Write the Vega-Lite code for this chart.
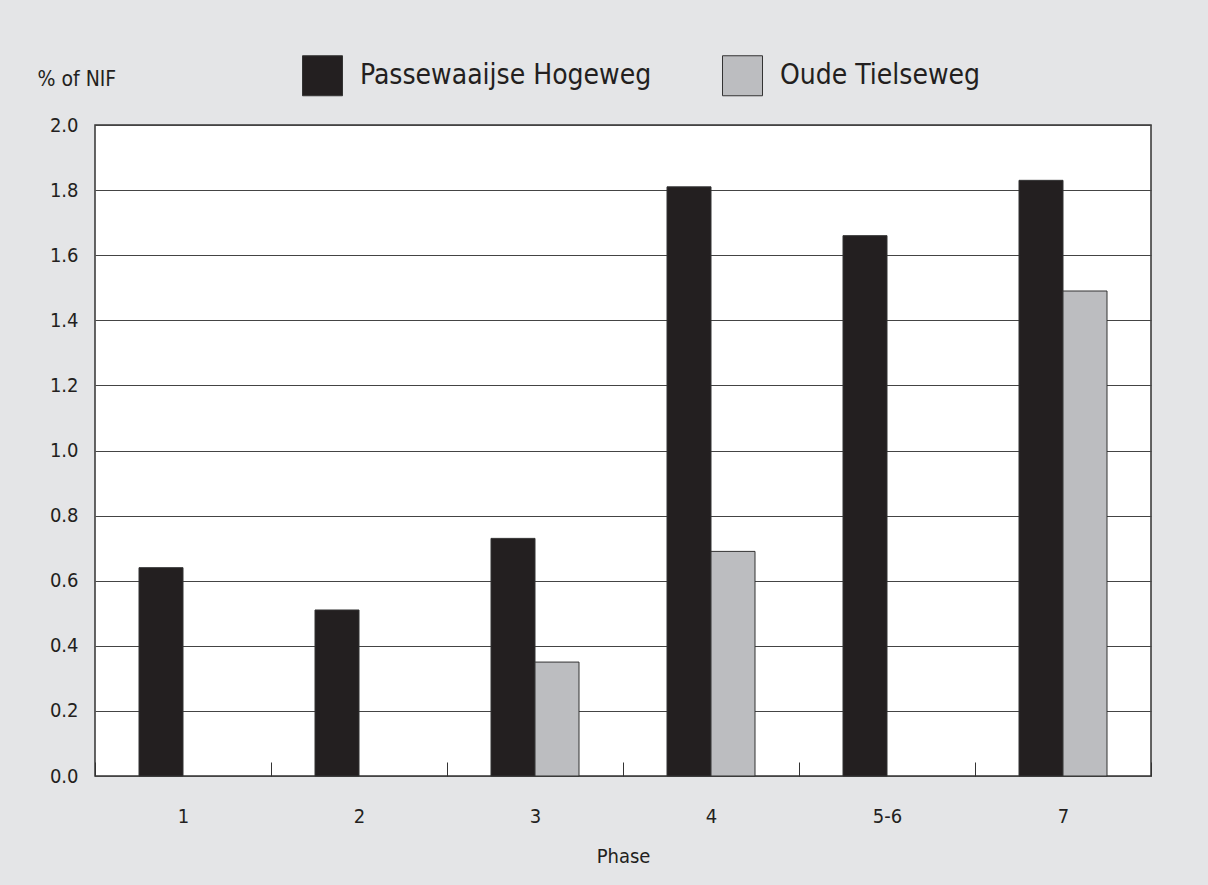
{
  "$schema": "https://vega.github.io/schema/vega-lite/v6.json",
  "autosize": {"type": "none"},
  "width": 1056,
  "height": 651,
  "padding": {"left": 95, "top": 125, "right": 57, "bottom": 109},
  "background": "#e4e5e7",
  "config": {
    "view": {"fill": "#ffffff", "stroke": "#333333", "strokeWidth": 1.5},
    "font": "DejaVu Sans Condensed",
    "axis": {"labelColor": "#231f20", "titleColor": "#231f20", "labelFont": "DejaVu Sans Condensed", "titleFont": "DejaVu Sans Condensed"},
    "legend": {"labelFont": "DejaVu Sans Condensed"}
  },
  "data": {
    "values": [
      {"phase": "1", "site": "Passewaaijse Hogeweg", "value": 0.64},
      {"phase": "2", "site": "Passewaaijse Hogeweg", "value": 0.51},
      {"phase": "3", "site": "Passewaaijse Hogeweg", "value": 0.73},
      {"phase": "3", "site": "Oude Tielseweg", "value": 0.35},
      {"phase": "4", "site": "Passewaaijse Hogeweg", "value": 1.81},
      {"phase": "4", "site": "Oude Tielseweg", "value": 0.69},
      {"phase": "5-6", "site": "Passewaaijse Hogeweg", "value": 1.66},
      {"phase": "7", "site": "Passewaaijse Hogeweg", "value": 1.83},
      {"phase": "7", "site": "Oude Tielseweg", "value": 1.49}
    ]
  },
  "mark": {"type": "bar", "stroke": "#333333", "strokeWidth": 1},
  "encoding": {
    "x": {
      "field": "phase",
      "type": "nominal",
      "sort": ["1", "2", "3", "4", "5-6", "7"],
      "scale": {"paddingInner": 0, "paddingOuter": 0},
      "axis": {
        "title": "Phase",
        "titleFontSize": 20,
        "titleFontWeight": "normal",
        "titlePadding": 20,
        "labelAngle": 0,
        "labelFontSize": 20,
        "labelPadding": 44,
        "domain": false,
        "ticks": true,
        "tickBand": "extent",
        "tickSize": -14,
        "tickColor": "#333333",
        "tickWidth": 1,
        "grid": false
      }
    },
    "xOffset": {
      "field": "site",
      "type": "nominal",
      "sort": ["Passewaaijse Hogeweg", "Oude Tielseweg"],
      "scale": {"paddingInner": 0, "paddingOuter": 1}
    },
    "y": {
      "field": "value",
      "type": "quantitative",
      "scale": {"domain": [0, 2], "nice": false},
      "axis": {
        "values": [0, 0.2, 0.4, 0.6, 0.8, 1.0, 1.2, 1.4, 1.6, 1.8, 2.0],
        "format": ".1f",
        "labelFontSize": 20,
        "labelPadding": 17,
        "ticks": false,
        "domain": false,
        "grid": true,
        "gridColor": "#444444",
        "gridWidth": 1,
        "title": "% of NIF",
        "titleFontSize": 21,
        "titleFontWeight": "normal",
        "titleAngle": 0,
        "titleAlign": "left",
        "titleBaseline": "alphabetic",
        "titleX": -58,
        "titleY": -40
      }
    },
    "color": {
      "field": "site",
      "type": "nominal",
      "sort": ["Passewaaijse Hogeweg", "Oude Tielseweg"],
      "scale": {"domain": ["Passewaaijse Hogeweg", "Oude Tielseweg"], "range": ["#231f20", "#bcbdc0"]},
      "legend": {
        "title": null,
        "orient": "none",
        "direction": "horizontal",
        "legendX": 207,
        "legendY": -70,
        "padding": 0,
        "symbolType": "square",
        "symbolSize": 1600,
        "symbolStrokeColor": "#333333",
        "symbolStrokeWidth": 1,
        "symbolOpacity": 1,
        "labelFontSize": 28,
        "labelColor": "#231f20",
        "labelOffset": 17,
        "columnPadding": 68,
        "labelLimit": 400
      }
    }
  }
}
